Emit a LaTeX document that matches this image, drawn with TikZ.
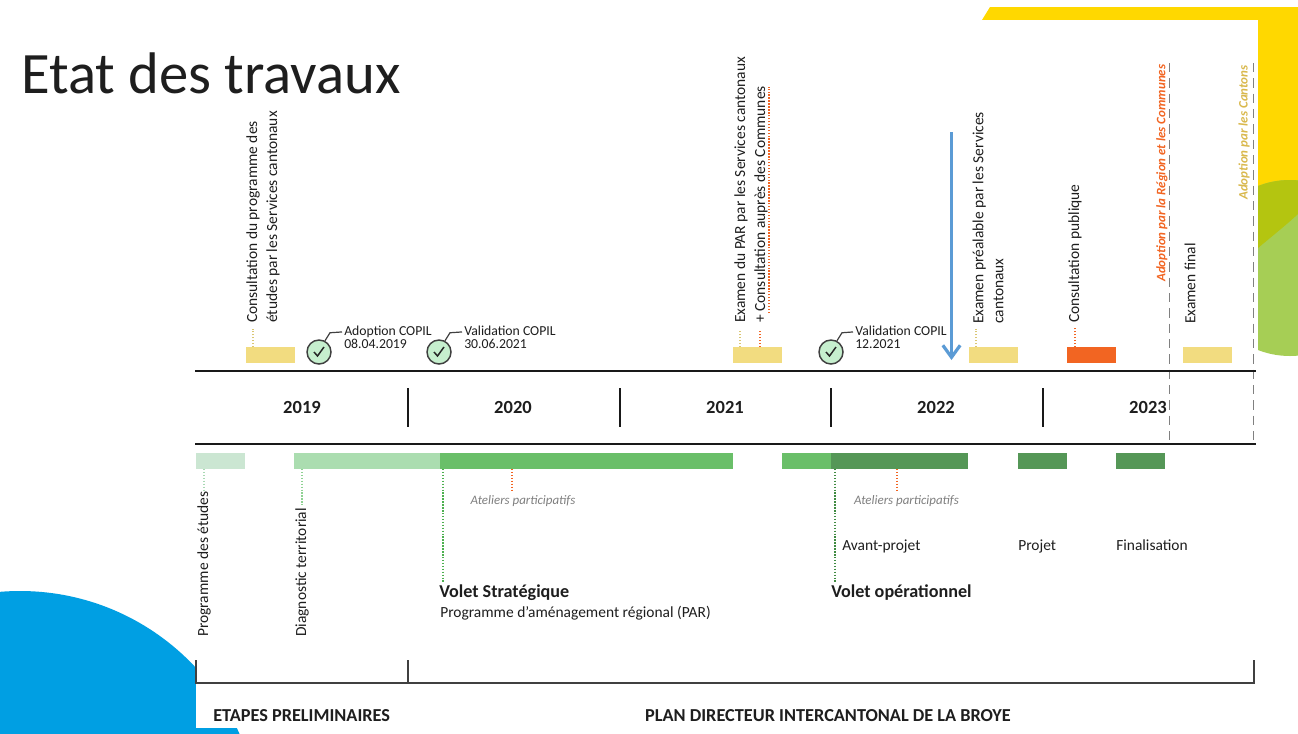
\documentclass[tikz,border=0pt]{standalone}
\usepackage{fontspec}
\setmainfont{Carlito}
\usetikzlibrary{arrows.meta,fit}
\definecolor{ybar}{HTML}{F2DC80}
\definecolor{obar}{HTML}{F26522}
\definecolor{gA}{HTML}{CBE6D2}
\definecolor{gB}{HTML}{ABDDB0}
\definecolor{gC}{HTML}{6ABF69}
\definecolor{gD}{HTML}{559757}
\definecolor{leadA}{HTML}{A9D9B4}
\definecolor{leadB}{HTML}{8FD293}
\definecolor{leadC}{HTML}{4DB050}
\definecolor{leadD}{HTML}{3F8A41}
\definecolor{txt}{HTML}{1E1E1E}
\definecolor{grayline}{HTML}{808080}
\definecolor{arrowblue}{HTML}{5B9BD5}
\definecolor{decoblue}{HTML}{009FE3}
\definecolor{decoyellow}{HTML}{FFD800}
\definecolor{decogreen}{HTML}{A6CE55}
\definecolor{decoolive}{HTML}{B4C510}
\definecolor{checkfill}{HTML}{C6EFCE}
\definecolor{adoptgold}{HTML}{D9B84C}
\definecolor{atelgray}{HTML}{7F7F7F}
\newcommand\myTitle{\fontsize{44}{50}\selectfont}
\newcommand\myLab{\fontsize{11.6}{15}\selectfont}
\newcommand\myYear{\fontsize{13.9}{16}\selectfont\bfseries}
\newcommand\myCop{\fontsize{10.3}{9.8}\selectfont}
\newcommand\myAtel{\fontsize{9.7}{12}\selectfont\itshape}
\newcommand\myVolet{\fontsize{13.6}{16}\selectfont\bfseries}
\newcommand\myBot{\fontsize{13.7}{15}\selectfont\bfseries}
\newcommand\myAdopt{\fontsize{9.7}{12}\selectfont\bfseries\itshape}
\begin{document}
\begin{tikzpicture}[x=0.75pt,y=-0.75pt,
  barbox/.style={inner sep=0pt, outer sep=0pt, draw=none},
  rlabel/.style={rotate=90, anchor=west, inner sep=0pt, align=left, text=txt, font=\myLab},
  hlabel/.style={anchor=base west, inner sep=0pt, text=txt, font=\myLab},
  lead/.style={line width=1.2pt, dash pattern=on 1.1pt off 1.1pt},
  mainline/.style={line width=2.2pt, draw=black!90},
  yearsep/.style={line width=1.8pt, draw=black!90},
  yearlbl/.style={font=\myYear, text=txt, inner sep=0pt},
  dashline/.style={line width=1.2pt, draw=grayline, dash pattern=on 7pt off 4.5pt},
  checkc/.style={circle, draw=black!75, line width=1.1pt, fill=checkfill, minimum size=18pt, inner sep=0pt},
  checkmark/.style={line width=1.1pt, draw=black!85},
  copline/.style={line width=0.9pt, draw=black!75},
  copil/.style={anchor=west, inner sep=0pt, align=left, font=\myCop, text=txt},
  atel/.style={inner sep=0pt, font=\myAtel, text=atelgray},
  volet/.style={anchor=base west, inner sep=0pt, font=\myVolet, text=txt},
  bottitle/.style={anchor=base west, inner sep=0pt, font=\myBot, text=txt},
  bracket/.style={line width=1.1pt, draw=black!75},
  adoptlbl/.style={rotate=90, anchor=west, inner sep=0pt, font=\myAdopt},
]
\useasboundingbox (0,0) rectangle (1298,733);
\fill[white] (0,0) rectangle (1298,733);
% decorations
\fill[decoblue] (20,831) circle[radius=240];
\fill[decoyellow] (982,20) -- (990,7) -- (1298,7) -- (1298,214) .. controls (1285,226) and (1271,237) .. (1258,248) -- (1258,20) -- cycle;
\fill[decogreen] (1290,268) circle[radius=88];
\begin{scope}
\clip (982,20) -- (990,7) -- (1298,7) -- (1298,214) .. controls (1285,226) and (1271,237) .. (1258,248) -- (1258,20) -- cycle;
\fill[decoolive] (1290,268) circle[radius=88];
\end{scope}
\fill[white] (196,20) rectangle (1258,728);

% title
\node[anchor=base west, inner sep=0pt, font=\myTitle, text=txt] (title) at (21,93) {Etat des travaux};

% dashed adoption lines
\coordinate (d1t) at (1169.5,63); \coordinate (d1b) at (1169.5,444);
\coordinate (d2t) at (1253.5,63); \coordinate (d2b) at (1253.5,444);
\draw[dashline] (d1t) -- (d1b);
\draw[dashline] (d2t) -- (d2b);

% main timeline lines
\coordinate (tlL) at (195,371); \coordinate (tlR) at (1256,371);
\coordinate (blL) at (195,444); \coordinate (blR) at (1256,444);
\draw[mainline] (tlL) -- (tlR);
\draw[mainline] (blL) -- (blR);
\foreach \x/\n in {408/sA,620/sB,831/sC,1043/sD}{
  \coordinate (\n t) at (\x,388); \coordinate (\n b) at (\x,427);
  \draw[yearsep] (\n t) -- (\n b);
}
\node[yearlbl] (y2019) at (302,407) {2019};
\node[yearlbl] (y2020) at (513,407) {2020};
\node[yearlbl] (y2021) at (725,407) {2021};
\node[yearlbl] (y2022) at (936,407) {2022};
\node[yearlbl] (y2023) at (1148,407) {2023};

% top bars
\node[barbox, fill=ybar, fit={(246,347) (295,363)}] (tb1) {};
\node[barbox, fill=ybar, fit={(733,347) (782,363)}] (tb2) {};
\node[barbox, fill=ybar, fit={(969,347) (1018,363)}] (tb3) {};
\node[barbox, fill=obar, fit={(1067,347) (1116,363)}] (tb4) {};
\node[barbox, fill=ybar, fit={(1183,347) (1232,363)}] (tb5) {};

% top labels
\node[rlabel] (L1) at (263,323) {Consultation du programme des\\études par les Services cantonaux};
\node[rlabel] (L2) at (751,323) {Examen du PAR par les Services cantonaux\\+ Consultation auprès des Communes};
\node[rlabel] (L3) at (988,324) {Examen préalable par les Services\\cantonaux};
\node[rlabel] (L4) at (1075,323) {Consultation publique};
\node[rlabel] (L6) at (1190,324) {Examen final};
\node[adoptlbl, text=obar] (L5) at (1162,282) {Adoption par la Région et les Communes};
\node[adoptlbl, text=adoptgold] (L7) at (1244,200) {Adoption par les Cantons};

% top leaders
\coordinate (k1) at (253,329);
\coordinate (k2) at (740,331);
\coordinate (k3) at (760,331);
\coordinate (k4) at (976,329);
\coordinate (k5) at (1075,328);
\draw[lead, draw=ybar!90!black] (tb1.north -| k1) -- (k1);
\draw[lead, draw=ybar!90!black] (tb2.north -| k2) -- (k2);
\draw[lead, draw=obar] (tb2.north -| k3) -- (k3);
\draw[lead, draw=ybar!90!black] (tb3.north -| k4) -- (k4);
\draw[lead, draw=obar] (tb4.north -| k5) -- (k5);
\coordinate (u1) at (769,313); \coordinate (u2) at (769,87);
\draw[lead, draw=obar] (u1) -- (u2);

% blue arrow
\coordinate (arT) at (951.5,132); \coordinate (arB) at (951.5,360);
\draw[line width=2.4pt, draw=arrowblue, -{Straight Barb[length=9pt,width=13pt]}] (arT) -- (arB);

% COPIL checks
\foreach \n/\cx/\tx/\t in {c1/319/344/{Adoption COPIL\\08.04.2019}, c2/439/464/{Validation COPIL\\30.06.2021}, c3/831/855/{Validation COPIL\\12.2021}}{
  \node[checkc] (\n) at (\cx,352) {};
  \draw[checkmark] ([shift={(-5,0)}]\n.center) -- ([shift={(-1.5,4)}]\n.center) -- ([shift={(5,-5)}]\n.center);
  \node[copil] (\n txt) at (\tx,337) {\t};
  \draw[copline] (\n.62) -- ++(5,-8) -- ([xshift=-1.5pt,yshift=3.8pt]\n txt.west);
}

% bottom bars
\node[barbox, fill=gA, fit={(196,453) (245,469)}] (bb1) {};
\node[barbox, fill=gB, fit={(294,453) (440,469)}] (bb2) {};
\node[barbox, fill=gC, fit={(440,453) (733,469)}] (bb3) {};
\node[barbox, fill=gC, fit={(782,453) (831,469)}] (bb4) {};
\node[barbox, fill=gD, fit={(831,453) (968,469)}] (bb5) {};
\node[barbox, fill=gD, fit={(1018,453) (1067,469)}] (bb6) {};
\node[barbox, fill=gD, fit={(1116,453) (1165,469)}] (bb7) {};

% bottom labels
\node[rlabel] (B1) at (204,637) {Programme des études};
\node[rlabel] (B2) at (302,637) {Diagnostic territorial};
\node[volet] (V1) at (439,597) {Volet Stratégique};
\node[hlabel] (V1s) at (440,617) {Programme d’aménagement régional (PAR)};
\node[volet] (V2) at (831,597) {Volet opérationnel};
\node[hlabel] (P1) at (842,550) {Avant-projet};
\node[hlabel] (P2) at (1018,550) {Projet};
\node[hlabel] (P3) at (1116,550) {Finalisation};
\node[atel] (A1) at (523,501) {Ateliers participatifs};
\node[atel] (A2) at (906.5,501) {Ateliers participatifs};

% bottom leaders
\coordinate (m1) at (204,492);
\coordinate (m2) at (302,505);
\coordinate (m3) at (443,582);
\coordinate (m4) at (512,492);
\coordinate (m5) at (835,582);
\coordinate (m6) at (897,492);
\draw[lead, draw=leadA] (bb1.south -| m1) -- (m1);
\draw[lead, draw=leadB] (bb2.south -| m2) -- (m2);
\draw[lead, draw=leadC] (bb3.south -| m3) -- (m3);
\draw[lead, draw=obar] (bb3.south -| m4) -- (m4);
\draw[lead, draw=leadD] (bb5.south -| m5) -- (m5);
\draw[lead, draw=obar] (bb5.south -| m6) -- (m6);

% bottom bracket
\coordinate (q1) at (196,660); \coordinate (q2) at (1254,660); \coordinate (q3) at (408,660);
\draw[bracket] (q1) -- (196,683) -- (1254,683) -- (q2);
\draw[bracket] (q3) -- (408,683);
\node[bottitle] (E1) at (213,721.5) {ETAPES PRELIMINAIRES};
\node[bottitle, anchor=base] (E2) at (828,721.5) {PLAN DIRECTEUR INTERCANTONAL DE LA BROYE};
\end{tikzpicture}
\end{document}
